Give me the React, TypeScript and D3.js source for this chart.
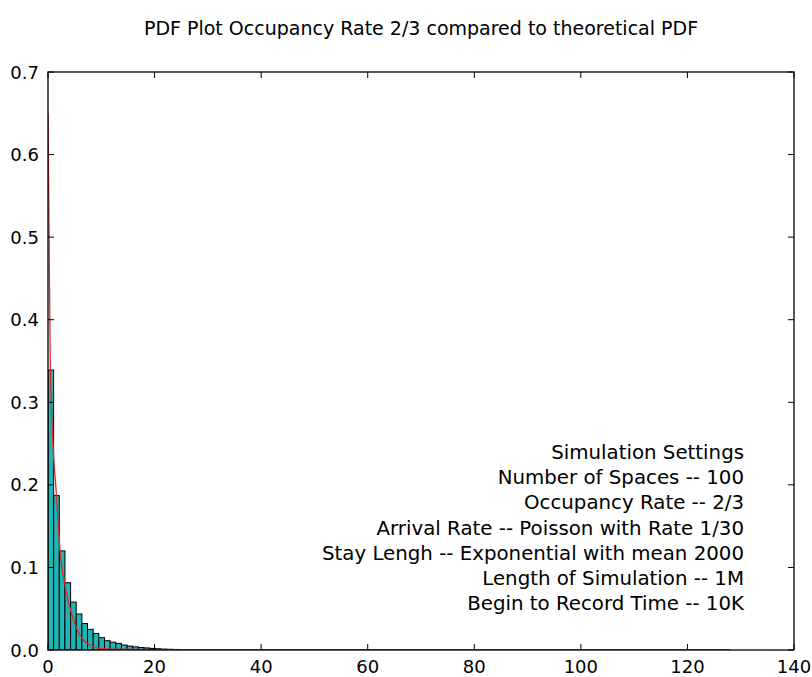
import React from "react";
import * as d3 from "d3";

const TITLE = "PDF Plot Occupancy Rate 2/3 compared to theoretical PDF";
const BIN_WIDTH = 1.06;
const binHeights = [
  0.339, 0.187, 0.12, 0.0815, 0.058, 0.0436, 0.032, 0.025, 0.02, 0.015,
  0.0113, 0.0095, 0.008, 0.006, 0.0047, 0.0038, 0.003, 0.0025, 0.0019, 0.0015,
  0.0011, 0.0009, 0.0007, 0.0005, 0.0004,
];
const curveX = [0, 0.4, 0.8, 1.6, 2.25, 3.1, 4.6, 6, 7.3, 9, 12, 20, 128];
const curveY = [0.65, 0.36, 0.27, 0.186, 0.121, 0.081, 0.04, 0.018, 0.0085, 0.003, 0.001, 0.0005, 0.0005];
const xTicks = [0, 20, 40, 60, 80, 100, 120, 140];
const yTicks = [0.0, 0.1, 0.2, 0.3, 0.4, 0.5, 0.6, 0.7];
const settingsLines = [
  "Simulation Settings",
  "Number of Spaces -- 100",
  "Occupancy Rate -- 2/3",
  "Arrival Rate -- Poisson with Rate 1/30",
  "Stay Lengh -- Exponential with mean 2000",
  "Length of Simulation -- 1M",
  "Begin to Record Time -- 10K",
];

const W = 812;
const H = 677;
const L = 48, R = 794, T = 72, B = 650;
const FONT = "'DejaVu Sans', sans-serif";

export default function App() {
  const x = d3.scaleLinear().domain([0, 140]).range([L, R]);
  const y = d3.scaleLinear().domain([0, 0.7]).range([B, T]);
  const line = d3
    .line<number>()
    .x((_, i) => x(curveX[i]))
    .y((d) => y(d))
    .curve(d3.curveMonotoneX);
  const tick = 6;
  return (
    <svg
      width={W}
      height={H}
      style={{ position: "absolute", left: 0, top: 0, background: "#fff" }}
      fontFamily={FONT}
    >
      <rect x={0} y={0} width={W} height={H} fill="#fff" />
      <text x={(L + R) / 2} y={35} textAnchor="middle" fontSize={19} fill="#000">
        {TITLE}
      </text>
      <defs>
        <clipPath id="plot">
          <rect x={L} y={T} width={R - L} height={B - T} />
        </clipPath>
      </defs>
      <g clipPath="url(#plot)">
        {binHeights.map((h, i) => (
          <rect
            key={i}
            x={x(i * BIN_WIDTH)}
            y={y(h)}
            width={x((i + 1) * BIN_WIDTH) - x(i * BIN_WIDTH)}
            height={y(0) - y(h)}
            fill="#1db5b5"
            stroke="#000"
            strokeWidth={1}
          />
        ))}
        <path d={line(curveY) || ""} fill="none" stroke="#e8262a" strokeWidth={1.3} />
      </g>
      {xTicks.map((t) => (
        <g key={"x" + t}>
          <line x1={x(t)} x2={x(t)} y1={B} y2={B - tick} stroke="#000" />
          <line x1={x(t)} x2={x(t)} y1={T} y2={T + tick} stroke="#000" />
          <text x={x(t)} y={673} textAnchor="middle" fontSize={18} fill="#000">
            {t}
          </text>
        </g>
      ))}
      {yTicks.map((t) => (
        <g key={"y" + t}>
          <line x1={L} x2={L + tick} y1={y(t)} y2={y(t)} stroke="#000" />
          <line x1={R} x2={R - tick} y1={y(t)} y2={y(t)} stroke="#000" />
          <text x={39} y={y(t) + 6.5} textAnchor="end" fontSize={18} fill="#000">
            {t.toFixed(1)}
          </text>
        </g>
      ))}
      <rect x={L} y={T} width={R - L} height={B - T} fill="none" stroke="#000" strokeWidth={1.3} />
      {settingsLines.map((s, i) => (
        <text key={i} x={744} y={459 + i * 25.2} textAnchor="end" fontSize={19.8} fill="#000">
          {s}
        </text>
      ))}
    </svg>
  );
}
